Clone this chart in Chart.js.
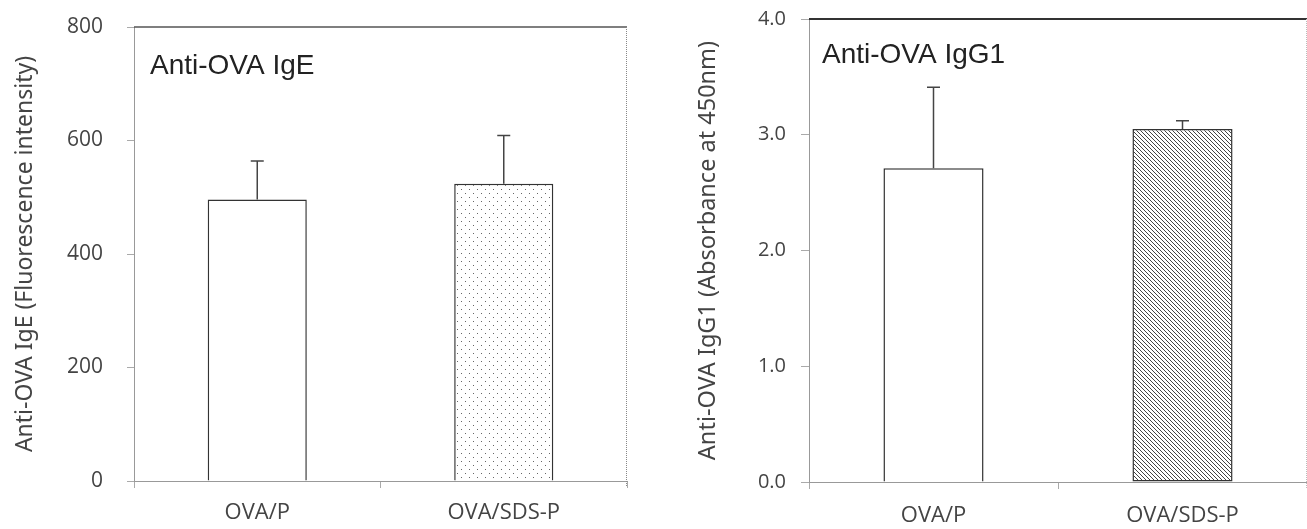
<!DOCTYPE html>
<html><head><meta charset="utf-8">
<script src="https://cdn.jsdelivr.net/npm/chart.js@4.4.1/dist/chart.umd.min.js"></script>
<style>
html,body{margin:0;padding:0;background:#fff;overflow:hidden;width:1307px;height:529px;position:relative}
#c1{position:absolute;left:0;top:0}
#c2{position:absolute;left:650px;top:0}
</style></head><body>
<canvas id="c1" width="650" height="529"></canvas>
<canvas id="c2" width="657" height="529"></canvas>
<script>
// ---- data ----
const categories = ['OVA/P', 'OVA/SDS-P'];
const igeValues = [496, 524];
const igeErrors = [68, 85];
const igeTicks = [0, 200, 400, 600, 800];
const igg1Values = [2.71, 3.05];
const igg1Errors = [0.70, 0.07];
const igg1Ticks = [0, 1, 2, 3, 4];
const igeTitle = 'Anti-OVA IgE';
const igg1Title = 'Anti-OVA IgG1';
const igeAxisTitle = 'Anti-OVA IgE (Fluorescence intensity)';
const igg1AxisTitle = 'Anti-OVA IgG1 (Absorbance at 450nm)';

// ---- fill patterns ----
function dotPattern() {
  const c = document.createElement('canvas'); c.width = 8; c.height = 8;
  const g = c.getContext('2d');
  g.fillStyle = '#fff'; g.fillRect(0, 0, 8, 8);
  g.fillStyle = '#666'; g.fillRect(1, 1, 1, 1); g.fillRect(5, 5, 1, 1);
  return g.createPattern(c, 'repeat');
}
function hatchPattern() {
  const c = document.createElement('canvas'); c.width = 4; c.height = 4;
  const g = c.getContext('2d');
  g.fillStyle = '#fff'; g.fillRect(0, 0, 4, 4);
  g.fillStyle = '#444';
  for (let i = 0; i < 4; i++) g.fillRect(i, i, 1, 1);
  return g.createPattern(c, 'repeat');
}

// ---- plugins ----
const errorBars = {
  id: 'errorBars',
  afterDatasetsDraw(chart, args, opts) {
    const { ctx } = chart;
    const y = chart.scales.y;
    const meta = chart.getDatasetMeta(0);
    const ds = chart.data.datasets[0];
    ctx.save();
    ctx.strokeStyle = '#444';
    ctx.lineWidth = 1.5;
    meta.data.forEach((bar, i) => {
      const v = ds.data[i], e = ds.errors[i];
      const yb = y.getPixelForValue(v), yt = y.getPixelForValue(v + e);
      ctx.beginPath();
      ctx.moveTo(bar.x, yb); ctx.lineTo(bar.x, yt);
      ctx.moveTo(bar.x - opts.cap, yt); ctx.lineTo(bar.x + opts.cap, yt);
      ctx.stroke();
    });
    ctx.restore();
  }
};
const frame = {
  id: 'frame',
  afterDraw(chart, args, opts) {
    const { ctx, chartArea: a } = chart;
    ctx.save();
    ctx.strokeStyle = opts.topColor; ctx.lineWidth = opts.topWidth;
    ctx.beginPath(); ctx.moveTo(a.left, a.top); ctx.lineTo(a.right, a.top); ctx.stroke();
    ctx.strokeStyle = opts.rightColor; ctx.lineWidth = 1; ctx.setLineDash([1, 1]);
    ctx.beginPath(); ctx.moveTo(a.right - 0.5, a.top); ctx.lineTo(a.right - 0.5, a.bottom + 6); ctx.stroke();
    ctx.setLineDash([]);
    ctx.fillStyle = '#222';
    ctx.font = '28px "Liberation Sans", Arial, sans-serif';
    ctx.textBaseline = 'alphabetic';
    ctx.fillText(opts.text, a.left + opts.dx, a.top + opts.dy);
    ctx.restore();
  }
};

function makeChart(id, cfg) {
  return new Chart(document.getElementById(id), {
    type: 'bar',
    data: {
      labels: categories,
      datasets: [{
        data: cfg.values,
        errors: cfg.errors,
        backgroundColor: ['#fff', cfg.fill],
        borderColor: '#333',
        borderWidth: 1.5,
        borderSkipped: cfg.skip,
        categoryPercentage: 1,
        barPercentage: 0.402
      }]
    },
    options: {
      responsive: false,
      animation: false,
      layout: { padding: cfg.padding },
      plugins: {
        legend: { display: false },
        tooltip: { enabled: false },
        errorBars: { cap: 6.5 },
        frame: cfg.frame
      },
      scales: {
        x: {
          offset: true,
          grid: { display: true, drawOnChartArea: false, drawTicks: true, tickLength: 7, color: '#aaa', offset: true },
          border: { display: true, color: '#999', dash: [1, 1], width: 1 },
          ticks: { color: '#444', font: { family: 'Open Sans', size: 22 }, padding: cfg.xPad, maxRotation: 0 },
          afterFit(s) { s.height = cfg.xHeight; s.paddingLeft = 0; s.paddingRight = 0; }
        },
        y: {
          min: cfg.ticks[0], max: cfg.ticks[cfg.ticks.length - 1],
          afterBuildTicks(s) { s.ticks = cfg.ticks.map(v => ({ value: v })); },
          grid: { display: true, drawOnChartArea: false, tickLength: cfg.yTick, color: '#aaa' },
          border: { display: true, color: '#999', dash: [1, 1], width: 1 },
          ticks: { color: '#444', font: { family: 'Open Sans', size: cfg.yFont }, padding: cfg.yPad, callback: cfg.fmt },
          title: { display: true, text: cfg.axisTitle, color: '#444', font: { family: 'Noto Sans', size: cfg.titleFont }, padding: { top: cfg.titlePad, bottom: 0 } },
          afterFit(s) { s.width = cfg.yWidth; s.paddingTop = 0; s.paddingBottom = 0; }
        }
      }
    },
    plugins: [errorBars, frame]
  });
}

makeChart('c1', {
  values: igeValues, errors: igeErrors, ticks: igeTicks, fill: dotPattern(),
  skip: 'start',
  padding: { top: 27, right: 23, bottom: 0, left: 0 },
  xHeight: 48, xPad: 12, yWidth: 134, yTick: 7, yPad: 24, yFont: 21,
  titlePad: 12, titleFont: 23, axisTitle: igeAxisTitle,
  fmt: v => String(v),
  frame: { text: igeTitle, dx: 16, dy: 47, topColor: '#555', topWidth: 1.5, rightColor: '#888' }
});
makeChart('c2', {
  values: igg1Values, errors: igg1Errors, ticks: igg1Ticks, fill: hatchPattern(),
  skip: (ctx) => ctx.dataIndex === 1 ? false : 'start',
  padding: { top: 19, right: 0, bottom: 0, left: 0 },
  xHeight: 47, xPad: 14, yWidth: 159, yTick: 8, yPad: 15, yFont: 20,
  titlePad: 44, titleFont: 23.5, axisTitle: igg1AxisTitle,
  fmt: v => Number(v).toFixed(1),
  frame: { text: igg1Title, dx: 13, dy: 44, topColor: '#333', topWidth: 2, rightColor: '#bbb' }
});
</script>
</body></html>
